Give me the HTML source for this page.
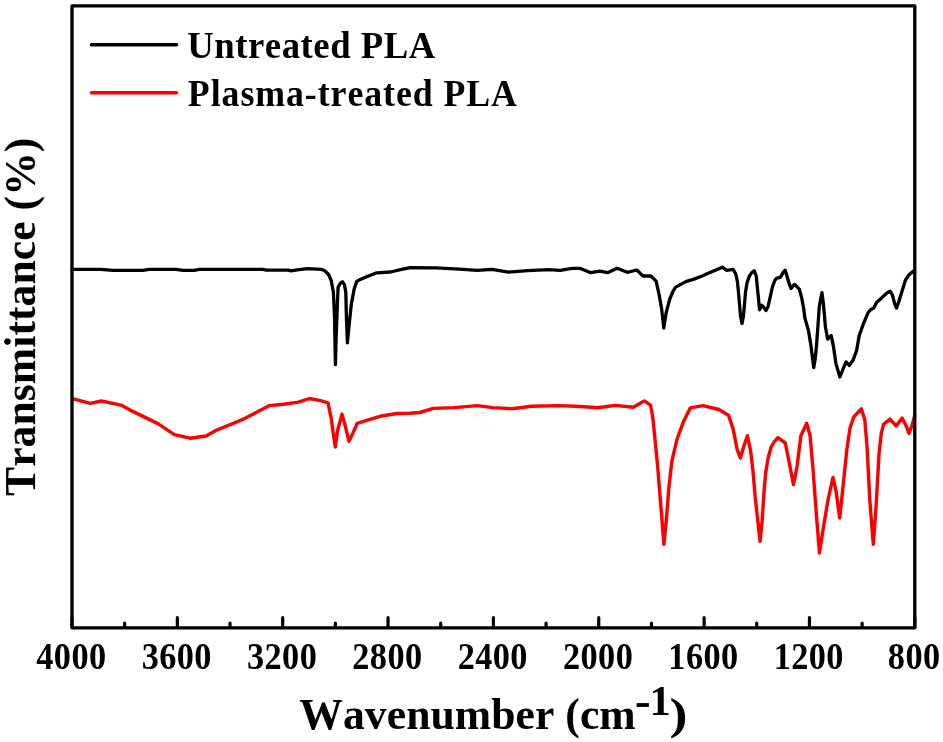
<!DOCTYPE html>
<html><head><meta charset="utf-8">
<style>
html,body{margin:0;padding:0;background:#fff;}
body{width:943px;height:742px;overflow:hidden;position:relative;font-family:"Liberation Serif",serif;}
svg{position:absolute;left:0;top:0;}
text{font-family:"Liberation Serif",serif;font-weight:bold;fill:#000;font-kerning:none;}
</style></head><body>
<svg width="943" height="742" viewBox="0 0 943 742">
<defs><filter id="soft" x="0" y="0" width="943" height="742" filterUnits="userSpaceOnUse"><feGaussianBlur stdDeviation="0.6"/></filter></defs>
<rect x="0" y="0" width="943" height="742" fill="#fff"/>
<g filter="url(#soft)">
<path id="red" d="M72.4 398.7 L90.3 403.4 L101.4 401.0 L122.0 405.4 L131.7 410.9 L157.9 423.6 L174.4 434.6 L190.1 438.2 L206.1 436.0 L215.8 430.5 L244.7 418.6 L269.5 405.6 L283.3 404.3 L298.5 402.1 L309.5 398.5 L320.4 400.6 L328.0 402.9 L331.2 418.2 L333.3 433.4 L335.3 447.0 L337.5 430.9 L342.0 414.1 L345.2 425.8 L349.0 441.3 L352.8 433.4 L357.3 423.3 L367.4 420.1 L380.2 416.3 L396.7 413.5 L409.4 413.3 L419.6 412.5 L433.4 408.4 L454.1 407.6 L477.5 405.6 L492.7 407.6 L512.0 408.7 L531.3 406.2 L558.9 405.6 L580.9 406.5 L597.5 407.8 L615.4 405.4 L633.3 407.3 L644.3 400.9 L650.6 405.2 L653.0 419.0 L657.6 465.6 L661.1 509.1 L663.9 544.3 L666.5 518.3 L668.8 488.5 L671.9 461.0 L677.0 439.3 L683.8 420.9 L690.3 407.9 L702.9 405.6 L718.9 409.5 L728.5 415.2 L733.1 428.9 L737.2 449.6 L740.4 458.0 L743.9 446.1 L747.4 435.7 L750.6 450.5 L753.0 471.1 L755.2 497.0 L757.8 520.7 L760.1 541.3 L762.2 520.7 L763.8 494.8 L765.6 473.3 L768.1 458.2 L771.2 446.8 L774.2 441.8 L777.9 437.7 L785.3 443.0 L789.3 462.8 L793.5 484.7 L797.1 466.0 L800.9 435.8 L806.7 423.2 L810.1 435.8 L813.1 470.2 L816.5 516.0 L819.5 553.0 L823.4 527.5 L828.0 500.0 L833.0 477.5 L836.0 490.8 L839.7 518.0 L843.0 487.0 L846.8 450.0 L850.0 428.0 L853.8 417.0 L861.3 408.8 L864.8 419.8 L867.1 447.3 L869.8 500.0 L873.3 544.3 L876.2 504.6 L879.0 454.1 L881.3 433.5 L883.6 424.4 L890.0 419.1 L896.2 426.0 L902.1 418.0 L906.0 425.5 L909.0 433.5 L912.4 424.4 L914.7 415.2" fill="none" stroke="#fb0000" stroke-width="3.4" stroke-linejoin="round" stroke-linecap="round"/>
<path id="black" d="M72.0 269.3 L101.0 269.3 L113.0 270.3 L143.0 270.3 L149.0 269.3 L176.0 269.3 L183.0 270.3 L194.0 270.3 L199.5 269.3 L263.3 269.3 L266.3 270.2 L288.5 270.2 L290.8 270.8 L298.9 269.6 L307.8 268.7 L321.2 269.3 L324.9 270.8 L328.6 274.5 L331.2 280.5 L333.4 292.2 L334.5 316.5 L335.4 364.6 L336.2 335.9 L337.4 303.5 L338.1 287.3 L340.4 283.3 L342.4 281.7 L344.5 284.9 L345.8 292.2 L346.4 316.5 L347.4 342.8 L349.0 326.2 L351.4 303.5 L354.2 289.0 L356.6 281.7 L359.0 280.1 L367.9 276.3 L376.8 272.8 L390.6 272.0 L400.3 269.6 L410.4 267.7 L435.6 267.9 L459.4 269.1 L477.2 270.3 L492.0 269.4 L508.4 272.1 L527.7 270.6 L548.5 269.7 L560.3 270.3 L572.2 268.4 L580.4 268.4 L590.8 272.7 L599.7 271.1 L607.6 272.7 L617.2 268.3 L627.2 272.3 L636.8 270.0 L643.0 276.0 L650.9 276.0 L656.1 281.2 L659.1 294.5 L661.7 309.4 L663.8 328.0 L666.2 312.4 L669.8 299.0 L673.2 290.8 L675.7 287.1 L685.8 281.6 L694.7 278.9 L702.1 276.0 L707.6 273.5 L716.5 269.7 L722.3 267.2 L726.7 270.4 L733.1 269.4 L735.8 274.0 L737.4 281.6 L738.5 292.3 L739.6 305.3 L740.6 316.5 L742.0 323.6 L743.4 316.5 L744.4 305.3 L745.5 292.3 L747.1 282.6 L749.3 276.2 L752.0 272.4 L754.3 270.8 L756.3 276.2 L757.3 287.0 L758.4 297.7 L759.6 309.8 L761.9 305.3 L763.8 307.4 L766.0 310.6 L768.1 306.4 L770.3 296.7 L772.4 287.0 L774.8 280.5 L776.8 278.1 L780.5 277.3 L783.2 272.4 L785.2 270.2 L787.0 276.2 L789.2 283.7 L791.0 288.5 L794.5 284.4 L799.3 289.2 L801.6 297.5 L803.7 308.5 L804.9 318.1 L808.4 330.3 L811.0 346.1 L813.7 367.6 L815.1 359.5 L816.4 347.0 L818.0 325.1 L819.3 306.5 L820.6 299.3 L822.0 292.6 L823.6 305.8 L825.4 326.8 L827.7 339.1 L831.2 335.6 L833.4 346.1 L835.9 363.6 L839.9 377.0 L843.1 368.9 L846.1 361.9 L849.2 365.4 L853.1 360.1 L856.6 350.5 L859.2 335.6 L863.6 323.3 L868.0 312.8 L870.6 309.7 L873.7 308.1 L876.7 302.3 L881.1 298.4 L887.2 292.7 L890.2 291.3 L892.5 295.3 L894.8 304.1 L896.5 308.1 L898.6 302.3 L902.1 290.9 L905.3 280.4 L909.1 274.6 L913.5 271.1" fill="none" stroke="#000" stroke-width="3.3" stroke-linejoin="round" stroke-linecap="round"/>
<rect id="frame" x="72.0" y="5.9" width="842.8" height="621.9" fill="none" stroke="#000" stroke-width="3.3" stroke-linejoin="round"/>
<path id="ticks" d="M72.00 627.1999999999999 V617.7 M124.67 627.1999999999999 V623.2 M177.35 627.1999999999999 V617.7 M230.02 627.1999999999999 V623.2 M282.70 627.1999999999999 V617.7 M335.38 627.1999999999999 V623.2 M388.05 627.1999999999999 V617.7 M440.72 627.1999999999999 V623.2 M493.40 627.1999999999999 V617.7 M546.08 627.1999999999999 V623.2 M598.75 627.1999999999999 V617.7 M651.42 627.1999999999999 V623.2 M704.10 627.1999999999999 V617.7 M756.77 627.1999999999999 V623.2 M809.45 627.1999999999999 V617.7 M862.12 627.1999999999999 V623.2 M914.80 627.1999999999999 V617.7" stroke="#000" stroke-width="3.2" fill="none" stroke-linecap="round"/>
<line x1="91.5" y1="44.7" x2="176.5" y2="44.7" stroke="#000" stroke-width="3.5" stroke-linecap="round"/>
<line x1="91.5" y1="92.8" x2="176.5" y2="92.8" stroke="#fb0000" stroke-width="3.5" stroke-linecap="round"/>
<text id="lg1" transform="translate(187.25,57.9) scale(0.962,1)" font-size="38.2" letter-spacing="0.55">Untreated PLA</text>
<text id="lg2" transform="translate(187.85,105.5) scale(0.9375,1)" font-size="38.2" letter-spacing="1">Plasma-treated PLA</text>
<g id="tl" font-size="38.5" text-anchor="middle" letter-spacing="0.5"><text transform="translate(71.4,668.8) scale(0.89,1)">4000</text><text transform="translate(176.8,668.8) scale(0.89,1)">3600</text><text transform="translate(282.1,668.8) scale(0.89,1)">3200</text><text transform="translate(387.4,668.8) scale(0.89,1)">2800</text><text transform="translate(492.8,668.8) scale(0.89,1)">2400</text><text transform="translate(598.1,668.8) scale(0.89,1)">2000</text><text transform="translate(703.5,668.8) scale(0.89,1)">1600</text><text transform="translate(808.8,668.8) scale(0.89,1)">1200</text><text transform="translate(914.2,668.8) scale(0.89,1)">800</text></g>
<text id="xl" transform="translate(299.3,728.6) scale(0.97,1)" font-size="45" letter-spacing="0.05">Wavenumber (cm</text>
<rect id="xs0" x="636.6" y="703.1" width="12.3" height="3.8" fill="#000"/>
<text id="xs1" transform="translate(649.5,715) scale(0.99,1)" font-size="43">1</text>
<text id="xs2" transform="translate(669.4,728.6) scale(1.2,1)" font-size="45">)</text>
<text id="yl" transform="translate(35.1,496) rotate(-90) scale(0.97,1)" font-size="45" letter-spacing="0.05">Transmittance (%)</text>
</g>
</svg>
</body></html>
